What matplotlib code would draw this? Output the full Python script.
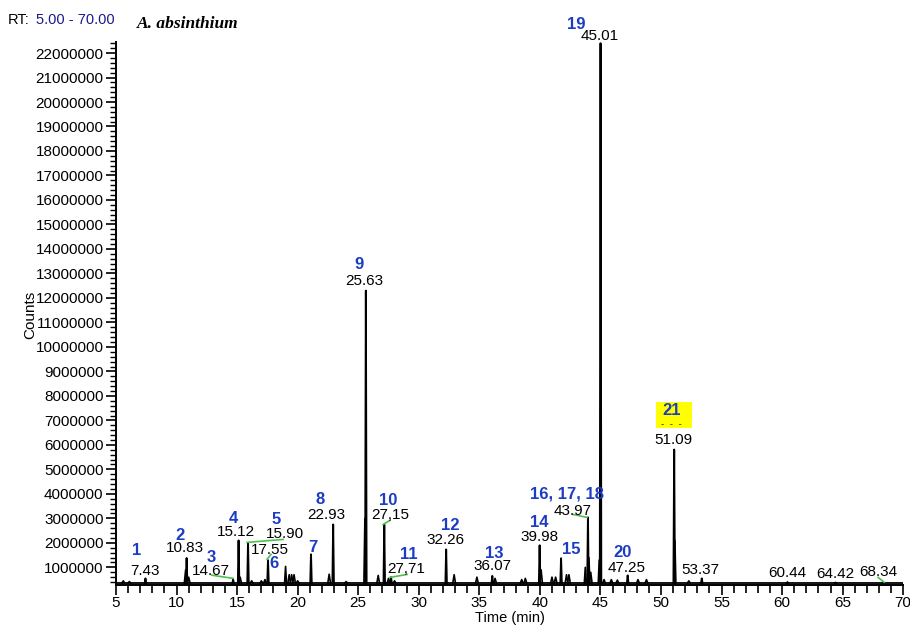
import numpy as np
import matplotlib
matplotlib.use('Agg')
from matplotlib import pyplot as plt
from matplotlib.patches import Rectangle
from matplotlib.ticker import MultipleLocator, FuncFormatter

plt.rcParams['font.family'] = ['Liberation Sans', 'DejaVu Sans']

# Chromatogram peaks: retention time (min) and height (counts)
peak_rt = [7.43, 10.83, 14.67, 15.12, 15.90, 17.55, 21.10, 22.93, 25.63, 27.15,
           27.71, 32.26, 36.07, 39.98, 41.75, 43.97, 45.01, 47.25, 51.09, 53.37,
           60.44, 64.42, 68.34]
peak_height = [0.55e6, 1.38e6, 0.50e6, 2.10e6, 2.00e6, 1.29e6, 1.53e6, 2.75e6, 12.30e6, 2.75e6,
               0.60e6, 1.73e6, 0.65e6, 1.90e6, 1.37e6, 3.04e6, 22.40e6, 0.67e6, 5.81e6, 0.55e6,
               0.40e6, 0.38e6, 0.38e6]

# Small unlabelled peaks and shoulders
minor_rt = [5.6, 6.1, 10.75, 11.0, 15.25, 16.2, 17.0, 17.3, 19.0, 19.3, 19.5, 19.7,
            20.0, 22.6, 24.0, 25.55, 26.65, 27.5, 28.0, 32.92, 34.8, 36.3, 38.5, 38.8,
            40.1, 41.0, 41.3, 42.2, 42.4, 43.75, 44.05, 44.2, 44.9, 45.3, 45.9, 46.4,
            48.1, 48.8, 51.15, 52.3]
minor_height = [0.45e6, 0.42e6, 0.90e6, 0.60e6, 0.60e6, 0.45e6, 0.45e6, 0.50e6, 1.04e6, 0.70e6, 0.70e6, 0.70e6,
                0.45e6, 0.72e6, 0.42e6, 3.00e6, 0.67e6, 0.55e6, 0.45e6, 0.70e6, 0.60e6, 0.55e6, 0.50e6, 0.55e6,
                0.90e6, 0.60e6, 0.60e6, 0.70e6, 0.70e6, 1.00e6, 1.40e6, 0.80e6, 1.30e6, 0.50e6, 0.50e6, 0.48e6,
                0.50e6, 0.50e6, 2.10e6, 0.45e6]

baseline = 0.36e6

# Retention time labels (text, x, y)
rt_labels = [('7.43', 7.40, 0.84e6), ('10.83', 10.70, 1.77e6), ('14.67', 12.85, 0.84e6),
             ('15.12', 14.91, 2.43e6), ('15.90', 18.96, 2.35e6), ('17.55', 17.72, 1.69e6),
             ('22.93', 22.34, 3.12e6), ('25.63', 25.48, 12.70e6), ('27,15', 27.63, 3.12e6),
             ('27,71', 28.95, 0.92e6), ('32.26', 32.17, 2.10e6), ('36.07', 36.05, 1.04e6),
             ('39.98', 39.94, 2.22e6), ('43.97', 42.74, 3.32e6), ('45.01', 44.97, 22.70e6),
             ('47.25', 47.20, 0.96e6), ('51.09', 51.00, 6.18e6), ('53.37', 53.23, 0.88e6),
             ('60.44', 60.42, 0.76e6), ('64.42', 64.38, 0.71e6), ('68.34', 67.93, 0.80e6)]

# Compound numbers (text, x, y)
compound_labels = [('1', 6.73, 1.69e6), ('2', 10.29, 2.31e6), ('3', 12.85, 1.41e6),
                   ('4', 14.66, 3.00e6), ('5', 18.21, 2.96e6), ('6', 18.05, 1.16e6),
                   ('7', 21.27, 1.82e6), ('8', 21.85, 3.77e6), ('9', 25.07, 13.36e6),
                   ('10', 27.46, 3.73e6), ('11', 29.20, 1.53e6), ('12', 32.59, 2.71e6),
                   ('13', 36.22, 1.57e6), ('14', 39.94, 2.84e6), ('15', 42.58, 1.73e6),
                   ('16, 17, 18', 42.25, 3.98e6), ('19', 42.99, 23.15e6), ('20', 46.79, 1.61e6),
                   ('21', 50.84, 7.40e6)]

# Leader lines from peaks to their labels
leaders = [((12.9, 14.67), (0.68e6, 0.55e6)), ((15.82, 18.79), (2.02e6, 2.14e6)),
           ((17.47, 17.80), (1.33e6, 1.53e6)), ((27.05, 27.63), (2.75e6, 2.92e6)),
           ((27.63, 29.03), (0.59e6, 0.71e6)), ((42.74, 43.90), (3.16e6, 3.04e6)),
           ((67.93, 68.43), (0.59e6, 0.39e6))]

fig = plt.figure(figsize=(9.1, 6.25), dpi=100)
ax = fig.add_axes([0.1275, 0.0648, 0.865, 0.868])

ax.plot([5, 70], [baseline, baseline], color='black', linewidth=1.3, zorder=2)
for rt, h in zip(minor_rt, minor_height):
    w = 0.08 if h > 0.9e6 else 0.11
    ax.plot([rt - w, rt, rt + w], [baseline, h, baseline], color='black', linewidth=1.2, zorder=2)
for rt, h in zip(peak_rt, peak_height):
    ax.plot([rt - 0.06, rt, rt + 0.06], [baseline, h, baseline], color='black', linewidth=1.4, zorder=3)

for xs, ys in leaders:
    ax.plot(xs, ys, color='#4ec04e', linewidth=1.2, zorder=4)

for txt, x, y in rt_labels:
    ax.text(x, y, txt, ha='center', va='center', fontsize=11, color='black', zorder=5)
for txt, x, y in compound_labels:
    ax.text(x, y, txt, ha='center', va='center', fontsize=12, color='#1c3cc4',
            fontweight='bold', zorder=5)

# highlight box behind compound 21
ax.add_patch(Rectangle((49.60, 6.71e6), 2.97, 1.06e6, facecolor='#ffff00',
                       edgecolor='none', zorder=4))
ax.text(50.9, 6.86e6, '-  -  -', ha='center', va='center', fontsize=7, color='#333333', zorder=5)

ax.set_xlim(5, 70)
ax.set_ylim(0.3e6, 22.45e6)
ax.xaxis.set_major_locator(MultipleLocator(5))
ax.xaxis.set_minor_locator(MultipleLocator(1))
ax.yaxis.set_major_locator(MultipleLocator(1e6))
ax.yaxis.set_minor_locator(MultipleLocator(0.2e6))
ax.yaxis.set_major_formatter(FuncFormatter(lambda v, p: '%d' % v if v >= 1e6 else ''))

for s in ['top', 'right']:
    ax.spines[s].set_visible(False)
for s in ['left', 'bottom']:
    ax.spines[s].set_linewidth(1.4)
ax.tick_params(axis='both', which='major', direction='out', length=7, width=1.2, labelsize=11)
ax.tick_params(axis='x', which='major', pad=1)
ax.tick_params(axis='y', which='major', pad=2)
ax.tick_params(axis='x', which='minor', direction='out', length=6, width=1.2)
ax.tick_params(axis='y', which='minor', direction='out', length=4, width=1.0)

fig.text(0.033, 0.496, 'Counts', rotation=90, ha='center', va='center', fontsize=11)
fig.text(0.56, 0.0, 'Time (min)', ha='center', va='bottom', fontsize=10.5)

fig.text(0.009, 0.968, 'RT:', ha='left', va='center', fontsize=10.5, color='black')
fig.text(0.040, 0.968, '5.00 - 70.00', ha='left', va='center', fontsize=10.5, color='#1a1a8c')
fig.text(0.150, 0.962, 'A. absinthium', ha='left', va='center', fontsize=12.5,
         family='Liberation Serif', fontweight='bold', fontstyle='italic')

plt.savefig('out.png', dpi=100)
plt.close()
